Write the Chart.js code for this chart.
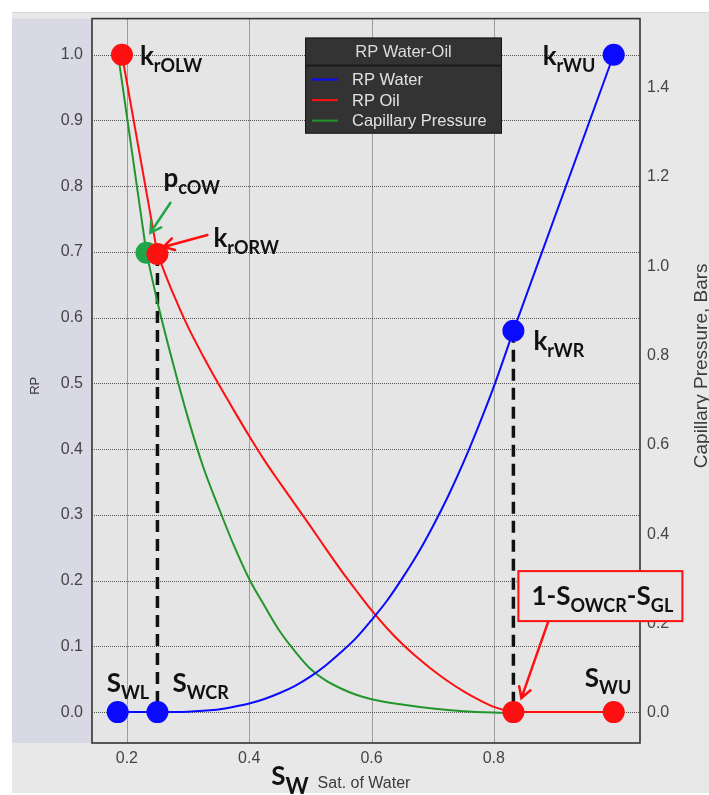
<!DOCTYPE html>
<html>
<head>
<meta charset="utf-8">
<script src="https://cdn.jsdelivr.net/npm/chart.js@4.4.0/dist/chart.umd.min.js"></script>
<style>
  html, body { margin: 0; padding: 0; background: #ffffff; }
  #wrap { width: 709px; height: 795px; }
</style>
</head>
<body>
<div id="wrap"><canvas id="rp" width="709" height="795"></canvas></div>
<script>
// Tick values for the three axes
const xTicks = [0.2, 0.4, 0.6, 0.8];
const rpTicks = [0.0, 0.1, 0.2, 0.3, 0.4, 0.5, 0.6, 0.7, 0.8, 0.9, 1.0];
const pcTicks = [0.0, 0.2, 0.4, 0.6, 0.8, 1.0, 1.2, 1.4];

// RP Water curve (water saturation vs. relative permeability)
const waterSw = [0.185, 0.25, 0.275, 0.30, 0.325, 0.35, 0.375, 0.40, 0.425, 0.45, 0.475, 0.50, 0.525, 0.55,
                 0.575, 0.60, 0.625, 0.65, 0.675, 0.70, 0.725, 0.75, 0.775, 0.80, 0.832, 0.996];
const waterKr = [0.0, 0.0, 0.0001, 0.0006, 0.002, 0.004, 0.008, 0.013, 0.020, 0.029, 0.040, 0.054, 0.071, 0.091,
                 0.113, 0.140, 0.169, 0.203, 0.240, 0.282, 0.328, 0.379, 0.435, 0.495, 0.58, 1.0];

// RP Oil curve
const oilSw = [0.192, 0.25, 0.275, 0.30, 0.325, 0.35, 0.375, 0.40, 0.425, 0.45, 0.475, 0.50, 0.525, 0.55,
               0.575, 0.60, 0.625, 0.65, 0.675, 0.70, 0.725, 0.75, 0.775, 0.80, 0.832, 0.996];
const oilKr = [1.0, 0.697, 0.638, 0.586, 0.541, 0.499, 0.459, 0.420, 0.383, 0.349, 0.316, 0.283, 0.249, 0.216,
               0.185, 0.155, 0.128, 0.104, 0.083, 0.064, 0.047, 0.032, 0.019, 0.008, 0.0, 0.0];

// Capillary pressure curve (bars, right axis)
const capSw = [0.186, 0.232, 0.25, 0.275, 0.30, 0.325, 0.35, 0.375, 0.40, 0.425, 0.45, 0.475, 0.50, 0.525,
               0.55, 0.575, 0.60, 0.65, 0.70, 0.75, 0.80, 0.832];
const capPc = [1.47, 1.03, 0.92, 0.785, 0.66, 0.55, 0.46, 0.375, 0.30, 0.24, 0.183, 0.138, 0.099, 0.073,
               0.055, 0.041, 0.031, 0.019, 0.010, 0.004, 0.001, 0.0];

// End points: SWL, SWCR, krWR, krWU
const waterPtSw = [0.185, 0.25, 0.832, 0.996];
const waterPtKr = [0.0, 0.0, 0.58, 1.0];
// End points: krOLW, krORW, 1-SOWCR-SGL, SWU
const oilPtSw = [0.192, 0.25, 0.832, 0.996];
const oilPtKr = [1.0, 0.697, 0.0, 0.0];
// End point: pcOW
const capPtSw = [0.232];
const capPtPc = [1.03];

const seriesNames = ['RP Water', 'RP Oil', 'Capillary Pressure'];
const legendTitle = 'RP Water-Oil';

const BLUE = '#0a0aff', RED = '#ff1010', GREEN = '#22962c', GREEN_PT = '#1fa64a';
const TICK_FONT = '"Liberation Sans", Arial, sans-serif';
const NOTE_FONT = 'Lato, "Open Sans", sans-serif';

const pts = (xs, ys, from, to) => xs.slice(from, to + 1).map((x, i) => ({ x: x, y: ys[from + i] }));

// Callout labels anchored to the end-point markers
const callouts = [
  { ds: 1, i: 0, dx: 18,  dy: 10,  parts: [['k', 0], ['rOLW', 1]] },
  { ds: 1, i: 1, dx: 56,  dy: -7,  parts: [['k', 0], ['rORW', 1]] },
  { ds: 0, i: 2, dx: 20,  dy: 19,  parts: [['k', 0], ['rWR', 1]] },
  { ds: 0, i: 3, dx: -71, dy: 10,  parts: [['k', 0], ['rWU', 1]] },
  { ds: 2, i: 0, dx: 17,  dy: -66, parts: [['p', 0], ['cOW', 1]] },
  { ds: 0, i: 0, dx: -11, dy: -20, parts: [['S', 0], ['WL', 1]] },
  { ds: 0, i: 1, dx: 15,  dy: -20, parts: [['S', 0], ['WCR', 1]] },
  { ds: 1, i: 3, dx: -29, dy: -25, parts: [['S', 0], ['WU', 1]] },
  { ds: 1, i: 2, dx: 18,  dy: -107, parts: [['1-S', 0], ['OWCR', 1], ['-S', 0], ['GL', 1]],
    box: [5, -141, 164, 50] }
];
const arrows = [
  { ds: 2, i: 0, from: [24, -50], to: [4, -20], color: GREEN_PT },
  { ds: 1, i: 1, from: [50, -19], to: [6, -7], color: RED },
  { ds: 1, i: 2, from: [35, -91], to: [8, -14], color: RED }
];

function drawRich(ctx, x, y, parts, big, small, drop) {
  let cx = x;
  ctx.textBaseline = 'alphabetic';
  ctx.textAlign = 'left';
  for (const [t, sub] of parts) {
    ctx.font = 'bold ' + (sub ? small : big) + 'px ' + NOTE_FONT;
    ctx.fillText(t, cx, y + (sub ? drop : 0));
    cx += ctx.measureText(t).width;
  }
  return cx;
}

function arrow(ctx, x1, y1, x2, y2, color) {
  const ang = Math.atan2(y2 - y1, x2 - x1);
  const head = 12, spread = Math.PI / 6;
  ctx.strokeStyle = color;
  ctx.lineWidth = 2.5;
  ctx.lineCap = 'round';
  ctx.beginPath();
  ctx.moveTo(x1, y1); ctx.lineTo(x2, y2);
  ctx.moveTo(x2 - head * Math.cos(ang - spread), y2 - head * Math.sin(ang - spread));
  ctx.lineTo(x2, y2);
  ctx.lineTo(x2 - head * Math.cos(ang + spread), y2 - head * Math.sin(ang + spread));
  ctx.stroke();
}

const decor = {
  id: 'decor',
  beforeDraw(chart) {
    const { ctx, chartArea: a, width, height } = chart;
    ctx.save();
    ctx.fillStyle = '#ffffff';
    ctx.fillRect(0, 0, width, height);
    ctx.fillStyle = '#e8e8e8';
    ctx.fillRect(12, 12, width - 12, height - 14);
    ctx.fillStyle = '#d4d4d4';
    ctx.fillRect(12, 12, width - 12, 1);
    ctx.fillStyle = '#d9d9e6';
    ctx.fillRect(12, a.top, a.left - 12, a.bottom - a.top);
    ctx.fillStyle = '#e5e5e5';
    ctx.fillRect(a.left, a.top, a.right - a.left, a.bottom - a.top);
    ctx.restore();
  },
  beforeDatasetsDraw(chart) {
    const { ctx, chartArea: a, scales } = chart;
    ctx.save();
    ctx.strokeStyle = '#555555';
    ctx.lineWidth = 1;
    ctx.setLineDash([1, 1]);
    for (const v of xTicks) {
      const px = Math.round(scales.x.getPixelForValue(v)) + 0.5;
      ctx.beginPath(); ctx.moveTo(px, a.top); ctx.lineTo(px, a.bottom); ctx.stroke();
    }
    for (const v of rpTicks) {
      const py = Math.round(scales.y.getPixelForValue(v)) + 0.5;
      ctx.beginPath(); ctx.moveTo(a.left, py); ctx.lineTo(a.right, py); ctx.stroke();
    }
    ctx.setLineDash([]);
    ctx.strokeStyle = '#333333';
    ctx.lineWidth = 1.6;
    ctx.strokeRect(a.left, a.top, a.right - a.left, a.bottom - a.top);
    ctx.restore();
  },
  afterDatasetsDraw(chart) {
    const { ctx, chartArea: a } = chart;
    // legend box
    const lx = a.left + 213, ly = a.top + 19, lw = 197, lh = 96;
    ctx.save();
    ctx.fillStyle = '#333333';
    ctx.fillRect(lx, ly, lw, lh);
    ctx.strokeStyle = '#151515';
    ctx.lineWidth = 1;
    ctx.strokeRect(lx + 0.5, ly + 0.5, lw - 1, lh - 1);
    ctx.fillStyle = '#1a1a1a';
    ctx.fillRect(lx, ly + 27, lw, 2);
    ctx.fillStyle = '#dcdcdc';
    ctx.font = '16.5px ' + TICK_FONT;
    ctx.textAlign = 'center';
    ctx.textBaseline = 'middle';
    ctx.fillText(legendTitle, lx + lw / 2, ly + 15);
    ctx.textAlign = 'left';
    const rows = chart.data.datasets.filter(d => d.inLegend);
    rows.forEach((d, k) => {
      const y = ly + 42 + k * 20.5;
      ctx.strokeStyle = d.borderColor;
      ctx.lineWidth = 2;
      ctx.beginPath(); ctx.moveTo(lx + 7, y); ctx.lineTo(lx + 33, y); ctx.stroke();
      ctx.fillStyle = '#e2e2e2';
      ctx.fillText(d.label, lx + 47, y + 1);
    });
    ctx.restore();
  },
  afterDraw(chart) {
    const { ctx, chartArea: a } = chart;
    ctx.save();
    // axis titles
    ctx.fillStyle = '#3c3c3c';
    ctx.font = '13px ' + TICK_FONT;
    ctx.textAlign = 'center';
    ctx.textBaseline = 'middle';
    ctx.save(); ctx.translate(35, (a.top + a.bottom) / 2 + 5); ctx.rotate(-Math.PI / 2);
    ctx.fillText('RP', 0, 0); ctx.restore();
    ctx.font = '19px ' + TICK_FONT;
    ctx.save(); ctx.translate(702, (a.top + a.bottom) / 2 - 15); ctx.rotate(-Math.PI / 2);
    ctx.fillText('Capillary Pressure, Bars', 0, 0); ctx.restore();
    const title = 'Sat. of Water';
    ctx.font = '16px ' + TICK_FONT;
    const tw = ctx.measureText(title).width;
    const tx = (a.left + a.right) / 2 - 2 - tw / 2;
    ctx.textAlign = 'left';
    ctx.textBaseline = 'alphabetic';
    ctx.fillText(title, tx, 788);
    ctx.fillStyle = '#111111';
    ctx.font = 'bold 26px ' + NOTE_FONT;
    const sW = ctx.measureText('S').width;
    ctx.font = 'bold 22px ' + NOTE_FONT;
    const wW = ctx.measureText('W').width;
    const sx0 = tx - 9 - sW - wW;
    ctx.font = 'bold 26px ' + NOTE_FONT;
    ctx.fillText('S', sx0, 785);
    ctx.font = 'bold 22px ' + NOTE_FONT;
    ctx.fillText('W', sx0 + sW, 794);

    // arrows
    for (const ar of arrows) {
      const p = chart.getDatasetMeta(ar.ds).data[ar.i];
      arrow(ctx, p.x + ar.from[0], p.y + ar.from[1], p.x + ar.to[0], p.y + ar.to[1], ar.color);
    }
    // callout labels
    for (const c of callouts) {
      const p = chart.getDatasetMeta(c.ds).data[c.i];
      if (c.box) {
        ctx.fillStyle = '#e6e6e6';
        ctx.fillRect(p.x + c.box[0], p.y + c.box[1], c.box[2], c.box[3]);
        ctx.strokeStyle = RED;
        ctx.lineWidth = 2;
        ctx.strokeRect(p.x + c.box[0], p.y + c.box[1], c.box[2], c.box[3]);
      }
      ctx.fillStyle = '#111111';
      drawRich(ctx, p.x + c.dx, p.y + c.dy, c.parts, 26, 18, 7);
    }
    ctx.restore();
  }
};

const marker = (data, color, axis) => ({
  data: data, yAxisID: axis, order: 0, showLine: false,
  pointRadius: 11, pointHoverRadius: 11, pointBackgroundColor: color, pointBorderWidth: 0,
  borderColor: color, backgroundColor: color
});
// straight piece of a curve (plateaus and end segments)
const segment = (data, color, axis) => ({
  data: data, yAxisID: axis, order: 1, showLine: true,
  borderColor: color, borderWidth: 2, pointRadius: 0, tension: 0, fill: false
});
// smooth body of a curve, also listed in the legend
const curve = (label, data, color, axis) => ({
  label: label, inLegend: true, data: data, yAxisID: axis, order: 1, showLine: true,
  borderColor: color, borderWidth: 2, pointRadius: 0, cubicInterpolationMode: 'monotone', fill: false
});
const guide = (data) => ({
  data: data, yAxisID: 'y', order: 2, showLine: true, borderColor: '#111111',
  borderWidth: 3.5, borderDash: [12, 7], pointRadius: 0, fill: false
});

const nW = waterSw.length - 1, nO = oilSw.length - 1, nC = capSw.length - 1;

new Chart(document.getElementById('rp'), {
  type: 'scatter',
  data: {
    datasets: [
      marker(pts(waterPtSw, waterPtKr, 0, 3), BLUE, 'y'),
      marker(pts(oilPtSw, oilPtKr, 0, 3), RED, 'y'),
      marker(pts(capPtSw, capPtPc, 0, 0), GREEN_PT, 'y2'),
      curve(seriesNames[0], pts(waterSw, waterKr, 1, nW - 1), BLUE, 'y'),
      curve(seriesNames[1], pts(oilSw, oilKr, 1, nO - 1), RED, 'y'),
      curve(seriesNames[2], pts(capSw, capPc, 1, nC), GREEN, 'y2'),
      segment(pts(waterSw, waterKr, 0, 1), BLUE, 'y'),
      segment(pts(waterSw, waterKr, nW - 1, nW), BLUE, 'y'),
      segment(pts(oilSw, oilKr, 0, 1), RED, 'y'),
      segment(pts(oilSw, oilKr, nO - 1, nO), RED, 'y'),
      segment(pts(capSw, capPc, 0, 1), GREEN, 'y2'),
      guide([{ x: oilPtSw[1], y: oilPtKr[1] }, { x: waterPtSw[1], y: waterPtKr[1] }]),
      guide([{ x: waterPtSw[2], y: waterPtKr[2] }, { x: oilPtSw[2], y: oilPtKr[2] }])
    ]
  },
  options: {
    responsive: false,
    devicePixelRatio: 1,
    animation: false,
    events: [],
    layout: { padding: { top: 16, left: 0, right: 0, bottom: 0 } },
    plugins: { legend: { display: false }, tooltip: { enabled: false } },
    scales: {
      x: {
        type: 'linear', position: 'bottom', min: 0.143, max: 1.039,
        afterBuildTicks: s => { s.ticks = xTicks.map(v => ({ value: v })); },
        afterFit: s => { s.height = 52; },
        grid: { display: false, drawTicks: false }, border: { display: false },
        ticks: { autoSkip: false, maxRotation: 0, padding: 6, color: '#444444',
                 font: { family: TICK_FONT, size: 16 }, callback: v => Number(v).toFixed(1) }
      },
      y: {
        type: 'linear', position: 'left', min: -0.047, max: 1.055,
        afterBuildTicks: s => { s.ticks = rpTicks.map(v => ({ value: v })); },
        afterFit: s => { s.width = 92; },
        grid: { display: false, drawTicks: false }, border: { display: false },
        ticks: { autoSkip: false, padding: 9, color: '#444444',
                 font: { family: TICK_FONT, size: 16 }, callback: v => Number(v).toFixed(1) }
      },
      y2: {
        type: 'linear', position: 'right', min: -0.067, max: 1.554,
        afterBuildTicks: s => { s.ticks = pcTicks.map(v => ({ value: v })); },
        afterFit: s => { s.width = 69; },
        grid: { display: false, drawTicks: false }, border: { display: false },
        ticks: { autoSkip: false, padding: 7, color: '#444444',
                 font: { family: TICK_FONT, size: 16 }, callback: v => Number(v).toFixed(1) }
      }
    }
  },
  plugins: [decor]
});
</script>
</body>
</html>
